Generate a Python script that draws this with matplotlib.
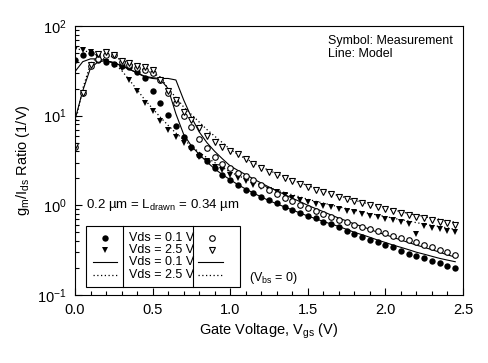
import matplotlib
matplotlib.use("Agg")
import matplotlib.pyplot as plt
import numpy as np
from matplotlib.lines import Line2D
from matplotlib.patches import Rectangle

plt.rcParams['font.family'] = ['Liberation Sans', 'DejaVu Sans']
plt.rcParams['mathtext.fontset'] = 'custom'
plt.rcParams['mathtext.rm'] = 'Liberation Sans'
plt.rcParams['mathtext.it'] = 'Liberation Sans'
plt.rcParams['mathtext.default'] = 'regular'

# gate voltage grid (V)
vgs = np.round(np.arange(0, 2.5, 0.05), 2)

# measurement, L = 0.2 um
meas_short_01 = [42, 48, 50, 42, 40, 38, 36, 35, 31, 26,
                 19, 14, 10.3, 7.6, 5.8, 4.5, 3.6, 3.1, 2.6, 2.2,
                 1.9, 1.67, 1.48, 1.36, 1.23, 1.14, 1.05, 0.96, 0.88, 0.82,
                 0.76, 0.72, 0.66, 0.62, 0.57, 0.52, 0.48, 0.44, 0.41, 0.39,
                 0.36, 0.34, 0.31, 0.29, 0.275, 0.26, 0.24, 0.225, 0.21, 0.2]
meas_short_25 = [55, 54, 51, 45, 40, 37, 34, 25, 19, 14,
                 11.3, 8.7, 7.0, 5.8, 4.9, 4.2, 3.5, 3.1, 2.7, 2.45,
                 2.2, 2.0, 1.85, 1.7, 1.59, 1.48, 1.4, 1.3, 1.22, 1.15,
                 1.08, 1.03, 0.99, 0.95, 0.91, 0.87, 0.84, 0.8, 0.77, 0.74,
                 0.71, 0.68, 0.65, 0.62, 0.475, 0.59, 0.56, 0.54, 0.52, 0.5]
# measurement, L = 0.34 um
meas_long_01 = [4.5, 18, 36, 43, 48, 47, 40, 37, 34, 32,
                30, 25, 18, 13.7, 10, 7.4, 5.5, 4.4, 3.5, 2.9,
                2.6, 2.3, 2.1, 1.9, 1.7, 1.5, 1.35, 1.22, 1.12, 1.02,
                0.93, 0.86, 0.8, 0.74, 0.69, 0.65, 0.61, 0.58, 0.55, 0.52,
                0.49, 0.46, 0.43, 0.41, 0.39, 0.36, 0.34, 0.32, 0.3, 0.28]
meas_long_25 = [4.6, 18, 37, 49, 51, 47, 41, 39, 36, 35,
                32, 25, 19, 15, 11, 8.9, 7.2, 6.0, 5.1, 4.5,
                4.0, 3.7, 3.3, 2.9, 2.6, 2.35, 2.16, 2.0, 1.85, 1.74,
                1.6, 1.48, 1.4, 1.33, 1.25, 1.18, 1.12, 1.06, 1.0, 0.95,
                0.9, 0.86, 0.82, 0.78, 0.75, 0.72, 0.69, 0.66, 0.63, 0.61]

# model
model_short_01 = [31, 40, 43, 43, 41, 39, 36, 33, 30, 27,
                  26, 25.5, 20, 10.5, 6.2, 4.6, 3.7, 3.05, 2.55, 2.2,
                  1.93, 1.7, 1.52, 1.37, 1.24, 1.13, 1.04, 0.96, 0.89, 0.82,
                  0.76, 0.71, 0.66, 0.62, 0.58, 0.54, 0.5, 0.47, 0.44, 0.41,
                  0.385, 0.36, 0.34, 0.32, 0.3, 0.285, 0.27, 0.256, 0.245, 0.235]
model_short_25 = [56, 54, 50, 46, 42, 38, 32, 25, 19.5, 15,
                  12, 9.6, 7.8, 6.4, 5.4, 4.6, 3.9, 3.4, 3.0, 2.65,
                  2.35, 2.15, 1.97, 1.82, 1.69, 1.58, 1.48, 1.39, 1.31, 1.24,
                  1.17, 1.11, 1.06, 1.01, 0.96, 0.92, 0.88, 0.85, 0.81, 0.78,
                  0.75, 0.72, 0.69, 0.67, 0.64, 0.62, 0.6, 0.58, 0.56, 0.54]
model_long_01 = [9, 19, 34, 40, 41, 39, 36, 33, 30, 27.5,
                 26.5, 26, 26, 25, 15, 9.6, 6.6, 5.0, 4.0, 3.3,
                 2.75, 2.45, 2.2, 1.97, 1.77, 1.6, 1.45, 1.32, 1.2, 1.1,
                 1.0, 0.92, 0.85, 0.78, 0.72, 0.67, 0.62, 0.58, 0.54, 0.5,
                 0.47, 0.44, 0.41, 0.385, 0.36, 0.34, 0.32, 0.3, 0.28, 0.265]
model_long_25 = [8, 20, 38, 46, 47, 45, 42, 38, 35, 32,
                 30, 27, 20, 16, 12.5, 10.3, 8.5, 7.0, 5.9, 5.0,
                 4.2, 3.7, 3.3, 3.0, 2.7, 2.45, 2.25, 2.07, 1.92, 1.78,
                 1.66, 1.55, 1.45, 1.36, 1.28, 1.21, 1.14, 1.08, 1.03, 0.98,
                 0.93, 0.89, 0.85, 0.81, 0.78, 0.75, 0.72, 0.7, 0.67, 0.65]

vds_labels = ['Vds = 0.1 V', 'Vds = 2.5 V', 'Vds = 0.1 V', 'Vds = 2.5 V']

fig = plt.figure(figsize=(4.89, 3.63), dpi=100)
ax = fig.add_axes([75 / 489, 1 - 295 / 363, 388 / 489, 269 / 363])

dot = (0, (1, 2))
ax.plot(vgs, model_short_01, color='k', lw=0.8)
ax.plot(vgs, model_long_01, color='k', lw=0.8)
ax.plot(vgs, model_short_25, color='k', lw=0.9, ls=dot)
ax.plot(vgs, model_long_25, color='k', lw=0.9, ls=dot)

ax.plot(vgs, meas_short_01, 'o', color='k', ms=4.6, mew=0)
ax.plot(vgs, meas_short_25, 'v', color='k', ms=5, mew=0)
ax.plot(vgs, meas_long_01, 'o', mfc='white', mec='k', ms=4, mew=0.8)
ax.plot(vgs, meas_long_25, 'v', mfc='white', mec='k', ms=4.5, mew=0.8)

ax.set_yscale('log')
ax.set_xlim(0, 2.5)
ax.set_ylim(0.1, 100)
ax.set_xticks([0, 0.5, 1.0, 1.5, 2.0, 2.5])
ax.set_xticklabels(['0.0', '0.5', '1.0', '1.5', '2.0', '2.5'])
ax.set_xticks(np.arange(0, 2.51, 0.1), minor=True)
ax.tick_params(which='both', direction='in', top=False, right=False,
               labelsize=10.5, width=0.8, pad=6)
ax.tick_params(which='major', length=5)
ax.tick_params(which='minor', length=3)
for s in ax.spines.values():
    s.set_linewidth(0.8)

ax.set_xlabel('Gate Voltage, V$_{gs}$ (V)', fontsize=10.5, labelpad=3)
ax.set_ylabel('g$_{m}$/I$_{ds}$ Ratio (1/V)', fontsize=10.5, labelpad=4)

fig.text(328 / 489, 1 - 41 / 363, 'Symbol: Measurement', fontsize=9, va='center')
fig.text(328 / 489, 1 - 54 / 363, 'Line: Model', fontsize=9, va='center')

ax.text(0.028, 0.335, '0.2 µm = L$_{drawn}$ = 0.34 µm', transform=ax.transAxes,
        fontsize=9.5, va='center')
ax.text(0.448, 0.063, '(V$_{bs}$ = 0)', transform=ax.transAxes, fontsize=9, va='center')

# legend table
tr = ax.transAxes
ax.add_patch(Rectangle((0.028, 0.03), 0.397, 0.2265, transform=tr,
                       fill=False, lw=0.8, ec='k'))
for xd in (0.1237, 0.304):
    ax.add_line(Line2D([xd, xd], [0.03, 0.2565], transform=tr, color='k', lw=0.8))
rows = [0.212, 0.167, 0.121, 0.075]
ax.add_line(Line2D([0.0773], [rows[0]], transform=tr, marker='o', color='k', ms=4.6, mew=0, ls=''))
ax.add_line(Line2D([0.0773], [rows[1]], transform=tr, marker='v', color='k', ms=5, mew=0, ls=''))
ax.add_line(Line2D([0.046, 0.108], [rows[2]] * 2, transform=tr, color='k', lw=0.8))
ax.add_line(Line2D([0.046, 0.108], [rows[3]] * 2, transform=tr, color='k', lw=0.9, ls=dot))
ax.add_line(Line2D([0.353], [rows[0]], transform=tr, marker='o', mfc='white', mec='k', ms=4, mew=0.8, ls=''))
ax.add_line(Line2D([0.353], [rows[1]], transform=tr, marker='v', mfc='white', mec='k', ms=4.5, mew=0.8, ls=''))
ax.add_line(Line2D([0.317, 0.381], [rows[2]] * 2, transform=tr, color='k', lw=0.8))
ax.add_line(Line2D([0.317, 0.381], [rows[3]] * 2, transform=tr, color='k', lw=0.9, ls=dot))
for yr, lab in zip(rows, vds_labels):
    ax.text(0.139, yr, lab, transform=tr, fontsize=9, va='center')

fig.savefig('out.png', dpi=100)
